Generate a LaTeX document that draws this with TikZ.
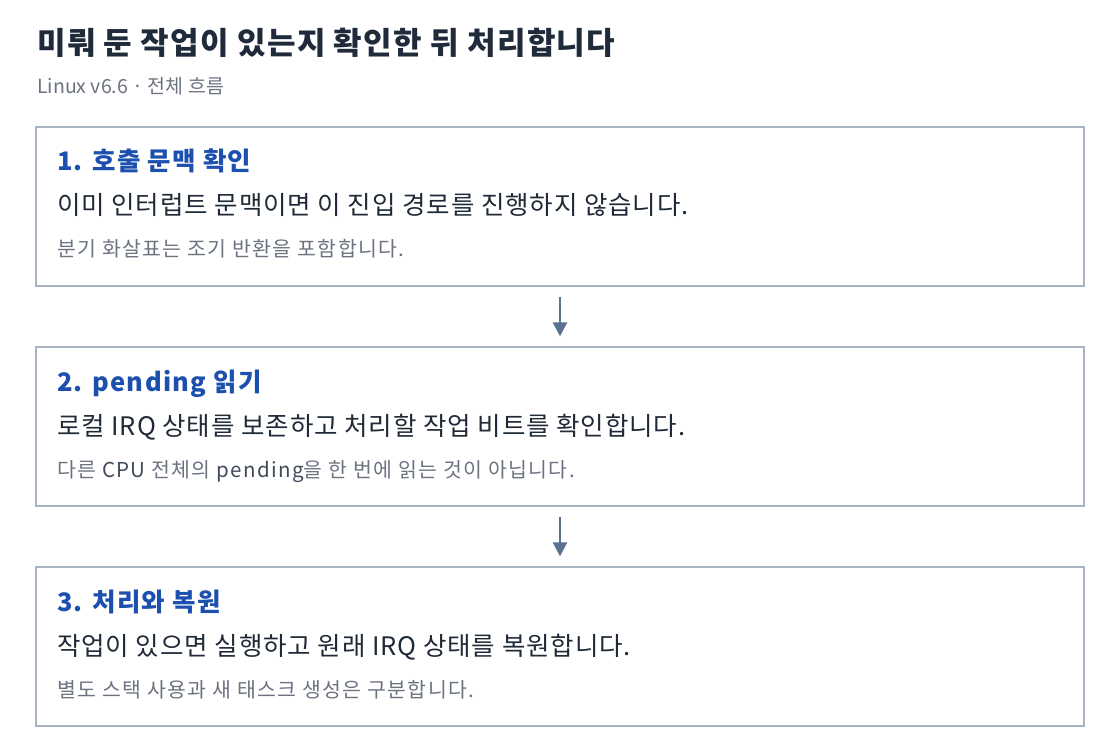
\documentclass[tikz,border=0pt]{standalone}
\usepackage{fontspec}
\setmainfont{Noto Sans CJK KR}
\usetikzlibrary{arrows.meta}
\definecolor{titlecol}{HTML}{1F2A3A}
\definecolor{headcol}{HTML}{1D50AE}
\definecolor{bodycol}{HTML}{1F2937}
\definecolor{notecol}{HTML}{6B7280}
\definecolor{latincol}{HTML}{3F4A5A}
\definecolor{framecol}{HTML}{A9B4C3}
\definecolor{arrowcol}{HTML}{5A7290}
\tikzset{
  stepbox/.style={draw=framecol, line width=1.3pt, minimum width=1048pt, minimum height=159pt, inner sep=0pt},
  headtext/.style={anchor=base west, inner sep=0pt, text=headcol, font=\fontsize{25.5}{30}\selectfont\bfseries\addfontfeature{LetterSpace=5}},
  bodytext/.style={anchor=base west, inner sep=0pt, text=bodycol, font=\fontsize{25.5}{30}\selectfont\addfontfeature{LetterSpace=3.5}},
  notetext/.style={anchor=base west, inner sep=0pt, text=notecol, font=\fontsize{20.5}{24}\selectfont\addfontfeature{LetterSpace=6.5}},
  flow/.style={draw=arrowcol, line width=2.5pt, -{Triangle[width=14pt,length=14pt]}}
}
\begin{document}
\begin{tikzpicture}[x=1pt,y=1pt]
    \useasboundingbox (0,0) rectangle (1120,-754);

    % Title and subtitle
    \node[anchor=base west, inner sep=0pt, text=titlecol, font=\fontsize{31}{36}\selectfont\bfseries\addfontfeature{LetterSpace=4.2}] (title) at (37,-55) {미뤄 둔 작업이 있는지 확인한 뒤 처리합니다};
    \node[anchor=base west, inner sep=0pt, text=notecol, font=\fontsize{19.5}{24}\selectfont] (sub) at (37,-94) {Linux v6.6 · 전체 흐름};

    % Step 1
    \node[stepbox] (s1) at (560,-206.5) {};
    \node[headtext] (h1) at (57,-171) {1. 호출 문맥 확인};
    \node[bodytext] (b1) at (57,-215) {이미 인터럽트 문맥이면 이 진입 경로를 진행하지 않습니다.};
    \node[notetext] (n1) at (57,-257) {분기 화살표는 조기 반환을 포함합니다.};

    % Step 2
    \node[stepbox] (s2) at (560,-426.5) {};
    \node[headtext] (h2) at (57,-391) {2. pending 읽기};
    \node[bodytext] (b2) at (57,-435) {로컬 IRQ 상태를 보존하고 처리할 작업 비트를 확인합니다.};
    \node[notetext] (n2) at (57,-477) {다른 \textcolor{latincol}{CPU} 전체의 \textcolor{latincol}{pending}을 한 번에 읽는 것이 아닙니다.};

    % Step 3
    \node[stepbox] (s3) at (560,-646.5) {};
    \node[headtext] (h3) at (57,-611) {3. 처리와 복원};
    \node[bodytext] (b3) at (57,-655) {작업이 있으면 실행하고 원래 IRQ 상태를 복원합니다.};
    \node[notetext] (n3) at (57,-697) {별도 스택 사용과 새 태스크 생성은 구분합니다.};

    % Arrows between steps
    \draw[flow] ([yshift=-10pt]s1.south) -- ([yshift=10pt]s2.north);
    \draw[flow] ([yshift=-10pt]s2.south) -- ([yshift=10pt]s3.north);
\end{tikzpicture}
\end{document}
